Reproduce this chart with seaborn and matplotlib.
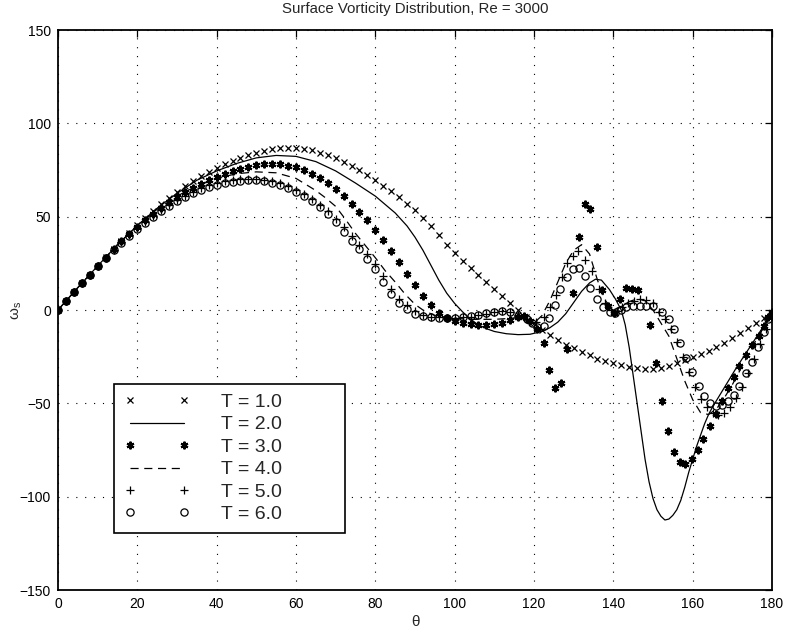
import numpy as np
import pandas as pd
import matplotlib
matplotlib.use("Agg")
import matplotlib.pyplot as plt
import seaborn as sns

# ---------------- data ----------------
theta_t1 = list(range(0, 182, 2))
omega_t1 = [0, 4.8, 9.6, 14.3, 19, 23.6, 28.2, 32.7, 37.1, 41.4, 45.6, 49.4, 53, 56.6, 60, 63.2,
            66.2, 69, 71.6, 74, 76.2, 78.2, 80, 81.6, 83, 84.2, 85.2, 86, 86.6, 86.9, 86.8, 86.3,
            85.5, 84.3, 83, 81.5, 79.5, 77.2, 74.8, 72.2, 69.5, 66.5, 63.5, 60.3, 57, 53.5, 49.5,
            45, 40, 35, 30.5, 26.5, 22.5, 18.8, 15, 11.2, 7.4, 3.6, 0, -3.6, -7, -10.5, -13.5, -16,
            -18.5, -20.5, -22.5, -24.3, -26, -27.3, -28.5, -29.5, -30.3, -31, -31.4, -31.5, -31,
            -30, -28.5, -26.8, -25, -23.5, -21.8, -20, -17.5, -15, -12.5, -9.5, -6.8, -4.2, -2]

theta_t2 = [0, 5, 10, 15, 20, 25, 30, 35, 40, 45, 50, 55, 60, 65, 70, 75, 80, 85, 88, 90, 92, 94,
            96, 98, 100, 102, 104, 106, 108, 110, 113, 116, 119, 122, 124, 126, 128, 130, 132, 134,
            135.5, 137, 139, 140.5, 142, 143, 144, 145, 146, 147, 148, 149, 150, 151, 152, 153, 154,
            155, 156, 157, 158, 159, 160, 161, 162, 163, 164, 165, 167, 169, 171, 173, 175, 177,
            179, 180]
omega_t2 = [0, 12, 23.6, 35, 45.3, 54.5, 62.5, 69.5, 74.5, 78.5, 81.5, 82.8, 82.3, 79.5, 74.5, 68,
            61, 52, 45, 39, 32, 24, 16, 9, 3.5, -1, -5, -8, -10, -11.5, -12.7, -13.2, -13, -11.5,
            -9.5, -6.5, -2, 4, 10, 14.5, 16.5, 16, 11, 6, 0, -8, -20, -35, -50, -65, -80, -92,
            -101, -107, -110.5, -112.5, -112, -110, -107, -102, -95, -87, -80, -73, -67, -61, -56,
            -52, -45, -38, -31, -24.5, -18, -11.5, -5, -3]

theta_t3 = list(range(0, 118, 2)) + [
    117.5, 119, 120.8, 122.4, 123.9, 125.3, 126.8, 128.3, 129.8, 131.4, 132.9, 134.2, 135.9,
    137.1, 138.6, 140.1, 141.7, 143.3, 144.7, 146.1, 149.3, 150.7, 152.2, 153.8, 155.2, 156.7,
    158.1, 159.8, 161.3, 162.7, 164.3, 166, 167.4, 168.9, 170.3, 171.8, 173.4, 175, 176.6,
    177.9, 178.9, 180]
omega_t3 = [0, 4.8, 9.6, 14.3, 19, 23.6, 28.1, 32.5, 36.7, 40.7, 44.5, 48.1, 51.5, 54.7, 57.7,
            60.5, 63.1, 65.5, 67.7, 69.7, 71.5, 73.1, 74.5, 75.7, 76.7, 77.5, 78, 78.2, 78, 77.4,
            76.4, 75, 73, 70.6, 67.8, 64.6, 61, 57, 52.6, 48, 43, 37.5, 31.8, 25.5, 19.5, 13.5,
            7.5, 2.5, -1.5, -4.5, -6, -7, -7.5, -7.8, -7.8, -7.5, -6.8, -5.5, -4,
            -3, -6, -10, -17.6, -32, -41.8, -39, -21, 9, 39, 56.6, 54, 34, 10.5, 2, -1.5, 6, 11.6,
            11.2, 10.8, -7.8, -28.5, -49, -65, -76, -81.6, -82.5, -80, -75, -69, -62, -55.5, -49,
            -42, -36, -30, -24, -19, -13.7, -8.4, -4, -1]

theta_t4 = [0, 5, 10, 15, 20, 25, 30, 35, 40, 45, 50, 55, 60, 65, 67.5, 70, 72.5, 75, 77.5, 80,
            82.5, 85, 87.5, 90, 92, 95, 100, 105, 110, 114, 116, 118, 120, 122, 124, 126, 128,
            130, 132, 134, 136, 138, 140, 142, 144, 146, 148, 150, 152, 154, 156, 158, 160, 162,
            164, 166, 168, 170, 172, 174, 176, 178, 180]
omega_t4 = [0, 12, 23.6, 35, 45, 54, 61, 66.5, 70.5, 73, 74, 73.5, 70.5, 64, 60, 55.5, 48.5, 41,
            34.5, 28, 21, 15, 8.5, 3, 0, -3, -4.5, -5, -5, -4.5, -4, -6, -7, -3, 5, 15, 25, 32,
            35, 30, 16, 5, 0, 2, 4.5, 6, 5, 0, -7, -14, -26, -38, -48, -55, -56, -53, -47, -40,
            -32, -24, -16, -9, -2]

theta_t5 = list(range(0, 116, 2)) + [
    116, 118, 120.5, 122.4, 124.1, 125.6, 127, 128.3, 129.8, 131.2, 132.9, 134.6, 136.3, 137.8,
    139.3, 140.8, 142.3, 143.8, 145.3, 146.8, 148.3, 150, 151.5, 153, 154.5, 156, 157.5, 159,
    160.5, 162, 163.5, 165, 166.5, 168, 169.5, 171, 172.5, 174, 175.5, 177, 178.5, 180]
omega_t5 = [0, 4.8, 9.6, 14.3, 18.9, 23.4, 27.8, 32.1, 36.2, 40.1, 43.8, 47.3, 50.6, 53.6, 56.4,
            59, 61.3, 63.4, 65.2, 66.8, 68, 69, 69.7, 70.2, 70.4, 70.3, 69.9, 69.1, 68, 66.4,
            64.5, 62.2, 59.6, 56.5, 53, 49, 44.5, 39.8, 35, 30, 24.5, 18, 11.5, 6, 2.5, -0.5,
            -2.5, -3.5, -4, -4.2, -4.2, -4, -3.5, -2.8, -2, -1.3, -0.8, -1.2,
            -2.5, -5, -6.5, -4, 1.4, 8, 17.6, 25.4, 29, 31.6, 27, 21, 11, 4, 0, -0.5, 1.5, 3.5, 5,
            6, 5.5, 3.5, -1, -5, -10, -17, -25, -33, -41, -47.5, -52, -55, -56, -55, -52, -47,
            -41, -34, -26, -18, -10, -3]

theta_t6 = list(range(0, 118, 2)) + [
    118.2, 119.5, 120.7, 122.4, 123.9, 125.3, 126.6, 128.3, 129.8, 131.3, 132.9, 134.2, 135.9,
    137.5, 139.2, 140.5, 141.9, 143.3, 145, 146.6, 148.3, 150, 152.2, 154, 155.4, 156.9, 158.4,
    159.8, 161.5, 162.9, 164.4, 166, 167.4, 168.9, 170.3, 171.8, 173.4, 175, 176.4, 177.9,
    179.1, 180]
omega_t6 = [0, 4.8, 9.6, 14.3, 18.9, 23.4, 27.8, 32, 36, 39.8, 43.4, 46.8, 50, 53, 55.8, 58.3,
            60.6, 62.6, 64.4, 65.9, 67.1, 68.1, 68.8, 69.3, 69.5, 69.4, 69, 68.2, 67, 65.3, 63.3,
            61, 58.3, 55, 51.3, 47, 42, 37, 32.5, 27.5, 22, 15, 8.5, 3.5, 0.5, -2, -3.3, -4,
            -4.3, -4.4, -4.3, -4, -3.4, -2.6, -1.8, -1, -0.5, -1, -3,
            -4.8, -7, -9.3, -8.4, -4.4, 2.7, 11, 17.8, 22, 22.3, 18, 12, 5.7, 1.4, -1.3, -1.6, 0,
            1.4, 2.3, 2.3, 2.3, 2, -1.3, -5, -10, -17.7, -25.7, -33.3, -40.7, -46, -49.6, -51.4,
            -51, -49, -45.4, -40.7, -34, -27.6, -19.6, -12, -5, -2]

labels = ["T = 1.0", "T = 2.0", "T = 3.0", "T = 4.0", "T = 5.0", "T = 6.0"]
x_ticks = [0, 20, 40, 60, 80, 100, 120, 140, 160, 180]
y_ticks = [-150, -100, -50, 0, 50, 100, 150]

# ---------------- style ----------------
sns.set_style("white")
plt.rcParams["font.family"] = ["Liberation Sans", "DejaVu Sans"]
plt.rcParams["mathtext.fontset"] = "custom"
plt.rcParams["mathtext.rm"] = "Liberation Sans"
plt.rcParams["mathtext.it"] = "Liberation Sans"

fig = plt.figure(figsize=(7.9, 6.34), dpi=100)
ax = fig.add_axes([58 / 790, 1 - 590 / 634, (772 - 58) / 790, (590 - 30) / 634])

series = [
    (theta_t1, omega_t1, dict(marker="x", linestyle="none", markersize=4.2, markeredgewidth=0.9,
                              markerfacecolor="k", markeredgecolor="k")),
    (theta_t2, omega_t2, dict(linestyle="-", linewidth=0.9)),
    (theta_t3, omega_t3, dict(marker=(6, 2, 0), linestyle="none", markersize=5.5,
                              markeredgewidth=1.5, markerfacecolor="k", markeredgecolor="k")),
    (theta_t4, omega_t4, dict(linestyle=(0, (6.5, 4.5)), linewidth=0.9)),
    (theta_t5, omega_t5, dict(marker="+", linestyle="none", markersize=5.5, markeredgewidth=0.9,
                              markerfacecolor="k", markeredgecolor="k")),
    (theta_t6, omega_t6, dict(marker="o", linestyle="none", markersize=5.2, markeredgewidth=0.9,
                              markerfacecolor="none", markeredgecolor="k")),
]

handles = []
for (th, om, kw), lab in zip(series, labels):
    df = pd.DataFrame({"theta": th, "omega": om})
    n_before = len(ax.get_lines())
    sns.lineplot(data=df, x="theta", y="omega", ax=ax, color="k", estimator=None,
                 sort=False, legend=False, **kw)
    line = ax.get_lines()[n_before]
    line.set_label(lab)
    handles.append(line)

ax.set_xlim(0, 180)
ax.set_ylim(-150, 150)
ax.set_xticks(x_ticks)
ax.set_yticks(y_ticks)
ax.tick_params(direction="in", length=5, width=0.9, top=True, right=True,
               labelsize=10, colors="k", pad=5)
for sp in ax.spines.values():
    sp.set_color("k")
    sp.set_linewidth(1.3)
ax.grid(True, color="k", linestyle=(0, (1, 7)), linewidth=0.8)

ax.set_title("Surface Vorticity Distribution, Re = 3000", fontsize=10.8, pad=12)
ax.set_xlabel("θ", fontsize=11, labelpad=3)
ax.set_ylabel(r"$\mathregular{\omega_s}$", fontsize=11)
ax.yaxis.set_label_coords(-0.048, 0.5)

leg = ax.legend(handles=handles, labels=labels, loc="lower left",
                bbox_to_anchor=(56 / 714, 57 / 560, 231 / 714, 0.5), mode="expand",
                borderaxespad=0, numpoints=2,
                handlelength=3.4, handletextpad=1.6, labelspacing=0.25, fontsize=14,
                frameon=True, fancybox=False, framealpha=1, edgecolor="k", borderpad=0.5)
leg.get_frame().set_linewidth(1.2)

fig.savefig("out.png", dpi=100)
